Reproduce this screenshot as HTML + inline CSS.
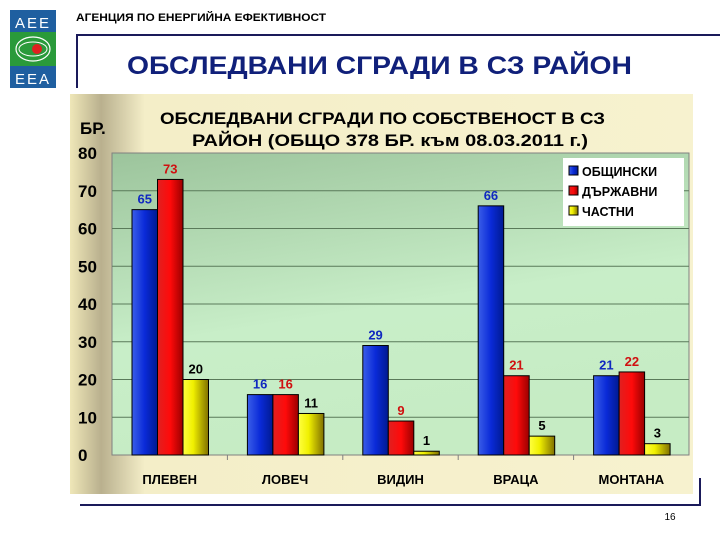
<!DOCTYPE html>
<html><head><meta charset="utf-8"><style>
body{margin:0;width:720px;height:540px;background:#fff;overflow:hidden;font-family:"Liberation Sans",sans-serif}
svg{display:block}
</style></head><body>
<svg width="720" height="540" xmlns="http://www.w3.org/2000/svg">
<defs>
<linearGradient id="panel" x1="0" x2="1" y1="0" y2="0">
<stop offset="0" stop-color="#efe7b8"/><stop offset="0.05" stop-color="#b9b08e"/><stop offset="0.12" stop-color="#f4eec8"/><stop offset="1" stop-color="#f7f2cf"/></linearGradient>
<linearGradient id="plot" x1="0" x2="0.3" y1="0" y2="1">
<stop offset="0" stop-color="#9cc49c"/><stop offset="0.6" stop-color="#c8eec8"/><stop offset="1" stop-color="#c6ecc4"/></linearGradient>
<linearGradient id="gb" x1="0" x2="1"><stop offset="0" stop-color="#3a5ee8"/><stop offset="0.5" stop-color="#0a2ad8"/><stop offset="1" stop-color="#001a90"/></linearGradient>
<linearGradient id="gr" x1="0" x2="1"><stop offset="0" stop-color="#e02020"/><stop offset="0.5" stop-color="#ff0a0a"/><stop offset="1" stop-color="#9a0000"/></linearGradient>
<linearGradient id="gy" x1="0" x2="1"><stop offset="0" stop-color="#ffff40"/><stop offset="0.4" stop-color="#f0f000"/><stop offset="1" stop-color="#807000"/></linearGradient>
</defs>
<g>
<rect x="10" y="10" width="46" height="78" fill="#1f5fa0"/>
<rect x="10" y="32" width="46" height="34" fill="#2a9a3a"/>
<text x="33" y="28" font-size="15" fill="#fff" text-anchor="middle" letter-spacing="2">AEE</text>
<text x="33" y="84" font-size="15" fill="#fff" text-anchor="middle" letter-spacing="2">EEA</text>
<ellipse cx="33" cy="49" rx="17" ry="12" fill="none" stroke="#fff" stroke-width="1.2"/>
<ellipse cx="33" cy="49" rx="14" ry="7" fill="none" stroke="#fff" stroke-width="1"/>
<circle cx="37" cy="49" r="5" fill="#e02020"/>
</g>
<text x="76" y="21" font-size="11" font-weight="bold" fill="#000" textLength="250" lengthAdjust="spacingAndGlyphs">АГЕНЦИЯ ПО ЕНЕРГИЙНА ЕФЕКТИВНОСТ</text>
<path d="M77 88 V35 H720" fill="none" stroke="#1a1a5a" stroke-width="2"/>
<text x="127" y="74" font-size="25" font-weight="bold" fill="#10207a" textLength="505" lengthAdjust="spacingAndGlyphs">ОБСЛЕДВАНИ СГРАДИ В СЗ РАЙОН</text>
<path d="M80 505 H700 V478" fill="none" stroke="#1a1a5a" stroke-width="2"/>
<text x="670" y="520" font-size="10" text-anchor="middle">16</text>
<rect x="70" y="94" width="623" height="400" fill="url(#panel)"/>
<text x="160" y="124" font-size="17" font-weight="bold" textLength="445" lengthAdjust="spacingAndGlyphs">ОБСЛЕДВАНИ СГРАДИ ПО СОБСТВЕНОСТ В СЗ</text>
<text x="192" y="146" font-size="17" font-weight="bold" textLength="396" lengthAdjust="spacingAndGlyphs">РАЙОН (ОБЩО  378 БР.  към 08.03.2011 г.)</text>
<text x="80" y="134" font-size="17" font-weight="bold">БР.</text>
<g id="chart"></g>
</svg>
<script>
const categories=["ПЛЕВЕН","ЛОВЕЧ","ВИДИН","ВРАЦА","МОНТАНА"];
const municipal=[65,16,29,66,21];
const state=[73,16,9,21,22];
const privateB=[20,11,1,5,3];
const yTicks=[0,10,20,30,40,50,60,70,80];
const seriesNames=["ОБЩИНСКИ","ДЪРЖАВНИ","ЧАСТНИ"];
const NS="http://www.w3.org/2000/svg";
const g=document.getElementById('chart');
const L=112,R=689,T=153,B=455,max=80;
const y=v=>B-(B-T)*v/max;
const cw=(R-L)/categories.length;
const x=i=>L+cw*i;
function el(t,a,txt){const e=document.createElementNS(NS,t);for(const k in a)e.setAttribute(k,a[k]);if(txt!=null)e.textContent=txt;g.appendChild(e);return e;}
let p=el('rect',{x:L,y:T,width:R-L,height:B-T,fill:'url(#plot)',stroke:'#808080'});


yTicks.forEach(t=>{
 if(t>0&&t<max){let l=el('line',{x1:L,x2:R,y1:y(t),y2:y(t),stroke:'#5a7a5a','stroke-width':1});
 
 }
 let tx=el('text',{x:78,y:y(t)+6,'font-size':17,'font-weight':'bold'},t);
 
 
});
const series=[municipal,state,privateB],fills=['url(#gb)','url(#gr)','url(#gy)'],lc=['#1028c0','#d01010','#000'];
const bw=25.5,off=20;
categories.forEach((c,i)=>{
 if(i>0){let tk=el('line',{x1:x(i),x2:x(i),y1:B,y2:B+5,stroke:'#808080'});
 
 }
 let lb=el('text',{x:x(i)+cw/2,y:B+29,'font-size':13,'font-weight':'bold','text-anchor':'middle'},c);
 
 
 series.forEach((s,j)=>{
  const bx=x(i)+off+j*bw;
  let r=el('rect',{x:bx,y:y(s[i]),width:bw,height:B-y(s[i]),fill:fills[j],stroke:'#000','stroke-width':1});
  
  
  let v=el('text',{x:bx+bw/2,y:y(s[i])-6,'font-size':13,'font-weight':'bold',fill:lc[j],'text-anchor':'middle'},s[i]);
  
  
 });
});
let lg=el('rect',{x:563,y:158,width:121,height:68,fill:'#fff'});


seriesNames.forEach((n,j)=>{
 let s=el('rect',{x:569,y:166+j*20,width:9,height:9,fill:fills[j],stroke:'#000'});
 
 
 let t=el('text',{x:582,y:176+j*20,'font-size':12.5,'font-weight':'bold'},n);
 
 
});
</script>
</body></html>
